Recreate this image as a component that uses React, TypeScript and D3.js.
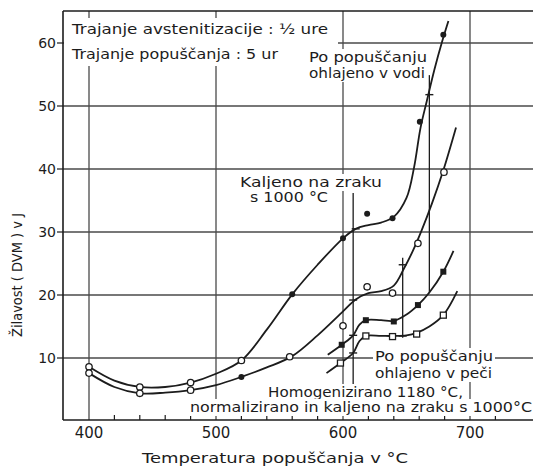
import React from 'react';
import * as d3 from 'd3';

// temperature (°C) / toughness (J)
const curveVoda = [
  [400, 8.6], [420, 6.4], [440, 5.4], [460, 5.4], [480, 6.1], [500, 7.5], [520, 9.6],
  [540, 14.5], [560, 20.1], [580, 24.8], [600, 29], [610, 30.5], [620, 31.1], [630, 31.5],
  [640, 32.4], [650, 35.4], [656, 40.3], [661, 46.5], [666, 50.8], [672, 55.8], [678, 60.2], [683, 63.5],
];
const curveZrak = [
  [400, 7.6], [420, 5.4], [440, 4.4], [460, 4.5], [480, 4.9], [500, 5.7], [520, 7],
  [540, 8.5], [560, 10.3], [580, 13.6], [600, 17.4], [610, 19.3], [620, 20.3], [630, 20.6],
  [640, 21.5], [648, 24.2], [655, 27], [662, 30.3], [670, 34.5], [679, 39.8], [689, 46.6],
];
const curvePec = [
  [588, 10.5], [599, 12.1], [608, 13.6], [613, 15.3], [618, 16], [630, 16], [640, 15.9],
  [650, 16.9], [659, 18.4], [668, 20.4], [679, 23.7], [687, 27],
];
const curveHomo = [
  [587, 7.6], [598, 9.2], [608, 10.8], [613, 12.7], [618, 13.5], [630, 13.5], [640, 13.5],
  [650, 13.6], [658, 14], [668, 15], [679, 16.8], [690, 20.6],
];

const filledDots = [[560, 20.1], [600, 29], [619, 32.9], [639, 32.2], [660.5, 47.5], [679, 61.3], [520, 7]];
const openCircles = [
  [400, 8.6], [400, 7.6], [440, 5.4], [440, 4.4], [480, 6.1], [480, 4.9], [520, 9.6],
  [558, 10.2], [600, 15.1], [619, 21.3], [639, 20.3], [659, 28.2], [679.5, 39.5],
];
const filledSquares = [[599, 12.1], [618, 16], [640, 15.8], [659, 18.4], [679, 23.7]];
const openSquares = [[598, 9.2], [618, 13.5], [639, 13.4], [658, 13.8], [679, 16.8]];
const tickMarks = [
  [610, 30.5], [668, 51.8], [608, 19.2], [647, 24.8], [608, 13.6], [608, 10.8], [647, 13.5],
];
// vertical leader lines: temperature, top, bottom
const leaders = [[608, 36.2, 5.4], [668, 54.9, 20.3], [647, 25.9, 13.2]];

const xGrid = [400, 500, 600, 700];
const xMinor = [420, 440, 460, 480, 520, 540, 560, 580, 620, 640, 660, 680, 720];
const yGrid = [10, 20, 30, 40, 50, 60];

const W = 533;
const H = 469;
const frame = { left: 63, top: 11, right: 533, bottom: 420 };
const ink = '#1c1c1c';
const gridInk = '#4a4a4a';
const font = '"DejaVu Sans", sans-serif';

const x = d3.scaleLinear().domain([400, 700]).range([89, 470]);
const y = d3.scaleLinear().domain([0, 60]).range([421, 43]);

const line = d3.line<number[]>()
  .x(d => x(d[0]))
  .y(d => y(d[1]))
  .curve(d3.curveCatmullRom.alpha(0.5));

// text with a white knock-out behind it
const Note = ({ x0, base, len, text, size = 14 }: { x0: number; base: number; len: number; text: string; size?: number }) => (
  <g>
    <rect x={x0 - 2} y={base - size + 1} width={len + 4} height={size + 3} fill="#fff" />
    <text x={x0} y={base} fontSize={size} textLength={len} lengthAdjust="spacingAndGlyphs" fill={ink}>{text}</text>
  </g>
);

export default function App() {
  return (
    <svg width={W} height={H} style={{ position: 'absolute', left: 0, top: 0, background: '#fff' }} fontFamily={font}>
      {/* grid */}
      {xGrid.map(t => (
        <line key={'gx' + t} x1={x(t)} x2={x(t)} y1={frame.top} y2={frame.bottom} stroke={gridInk} strokeWidth={1.3} />
      ))}
      {yGrid.map(v => (
        <line key={'gy' + v} x1={frame.left - 6} x2={frame.right} y1={y(v)} y2={y(v)} stroke={gridInk} strokeWidth={1.3} />
      ))}
      {xMinor.map(t => (
        <line key={'mx' + t} x1={x(t)} x2={x(t)} y1={frame.bottom} y2={frame.bottom - 5} stroke={ink} strokeWidth={1.2} />
      ))}

      {/* curves */}
      {[curveVoda, curveZrak, curvePec, curveHomo].map((c, i) => (
        <path key={'c' + i} d={line(c) || ''} fill="none" stroke={ink} strokeWidth={1.8} />
      ))}
      {leaders.map((l, i) => (
        <line key={'l' + i} x1={x(l[0])} x2={x(l[0])} y1={y(l[1])} y2={y(l[2])} stroke={ink} strokeWidth={1.3} />
      ))}

      {/* markers */}
      {filledDots.map((d, i) => <circle key={'fd' + i} cx={x(d[0])} cy={y(d[1])} r={3} fill={ink} />)}
      {openCircles.map((d, i) => <circle key={'oc' + i} cx={x(d[0])} cy={y(d[1])} r={3.2} fill="#fff" stroke={ink} strokeWidth={1.3} />)}
      {filledSquares.map((d, i) => <rect key={'fs' + i} x={x(d[0]) - 3} y={y(d[1]) - 3} width={6} height={6} fill={ink} />)}
      {openSquares.map((d, i) => <rect key={'os' + i} x={x(d[0]) - 3} y={y(d[1]) - 3} width={6} height={6} fill="#fff" stroke={ink} strokeWidth={1.3} />)}
      {tickMarks.map((d, i) => <line key={'tm' + i} x1={x(d[0]) - 4} x2={x(d[0]) + 4} y1={y(d[1])} y2={y(d[1])} stroke={ink} strokeWidth={1.4} />)}

      {/* notes */}
      <rect x={64} y={18} width={274} height={48} fill="#fff" />
      <Note x0={72} base={34} len={256} text="Trajanje avstenitizacije : ½ ure" />
      <Note x0={72} base={59} len={206} text="Trajanje popuščanja : 5 ur" />
      <Note x0={309} base={62} len={118} text="Po popuščanju" />
      <Note x0={309} base={78} len={116} text="ohlajeno v vodi" />
      <Note x0={240} base={187} len={142} text="Kaljeno na zraku" />
      <Note x0={250} base={202} len={78} text="s 1000 °C" />
      <Note x0={375} base={361} len={118} text="Po popuščanju" />
      <Note x0={375} base={378} len={117} text="ohlajeno v peči" />
      <Note x0={268} base={397} len={195} text="Homogenizirano 1180 °C," />
      <Note x0={190} base={412} len={342} text="normalizirano in kaljeno na zraku s 1000°C" />

      {/* frame */}
      <line x1={frame.left} x2={frame.right} y1={frame.top} y2={frame.top} stroke={ink} strokeWidth={1.6} />
      <line x1={frame.left} x2={frame.left} y1={frame.top} y2={frame.bottom} stroke={ink} strokeWidth={1.6} />
      <line x1={frame.left} x2={frame.right} y1={frame.bottom} y2={frame.bottom} stroke={ink} strokeWidth={1.6} />

      {/* axis labels */}
      {xGrid.map(t => (
        <text key={'tx' + t} x={x(t)} y={438} fontSize={15} textAnchor="middle" fill={ink}>{t}</text>
      ))}
      {yGrid.map(v => (
        <text key={'ty' + v} x={56} y={y(v) + 5} fontSize={14} textAnchor="end" fill={ink}>{v}</text>
      ))}
      <text x={142} y={463} fontSize={14} textLength={266} lengthAdjust="spacingAndGlyphs" fill={ink}>Temperatura popuščanja v °C</text>
      <text transform="translate(22,337) rotate(-90)" fontSize={14} textLength={124} lengthAdjust="spacingAndGlyphs" fill={ink}>Žilavost ( DVM ) v J</text>
    </svg>
  );
}
